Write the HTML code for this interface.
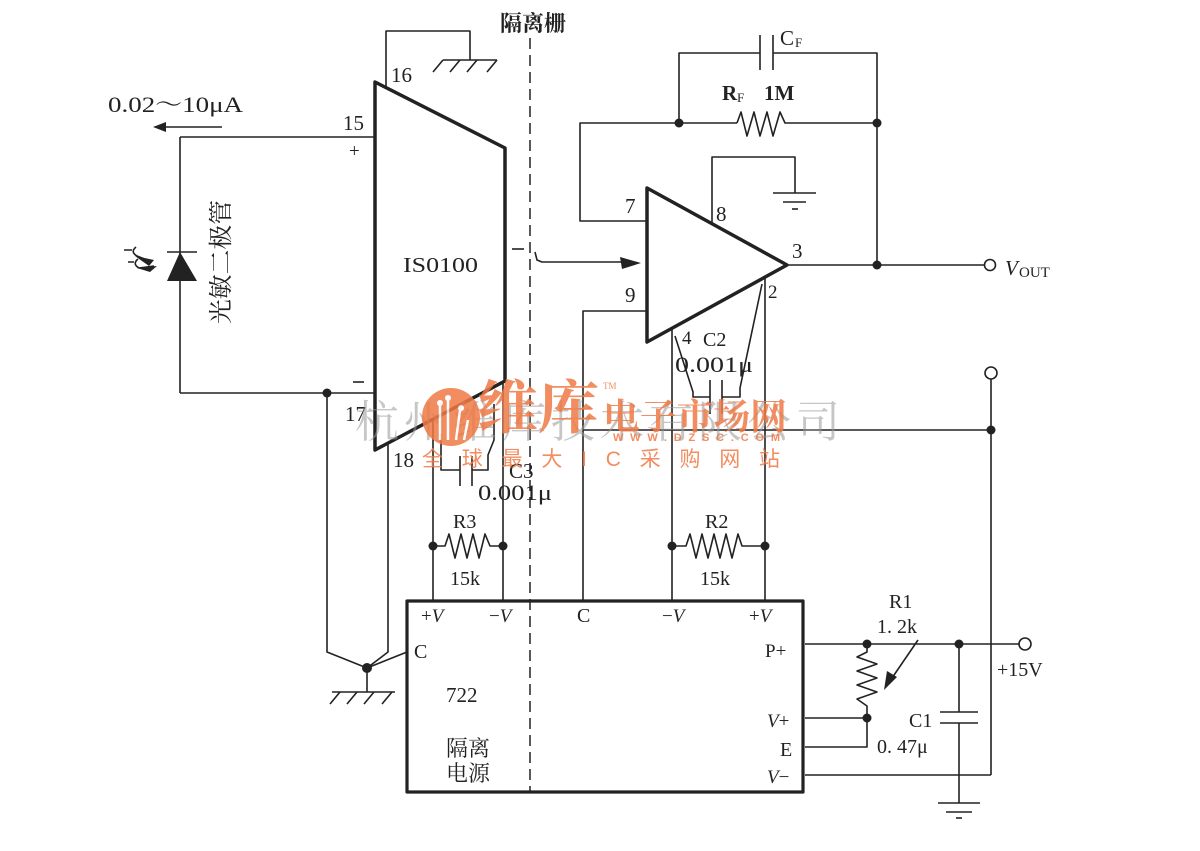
<!DOCTYPE html>
<html><head><meta charset="utf-8"><style>
html,body{margin:0;padding:0;background:#fff;}
svg{display:block;}
text{font-family:"Liberation Serif","Noto Serif CJK SC",serif;fill:#222;}
.cjk{font-family:"Liberation Serif","Noto Serif CJK SC",serif;}
</style></head><body>
<svg width="1200" height="851" viewBox="0 0 1200 851" xmlns="http://www.w3.org/2000/svg">
<rect width="1200" height="851" fill="#fff"/>
<g stroke="#222" stroke-width="1.6" fill="none" stroke-linejoin="round">
<line x1="530" y1="38" x2="530" y2="792" stroke-dasharray="11,6" stroke-width="1.5"/>
<polygon points="375,82 505,148 505,381 375,450" stroke-width="3.5"/>
<polyline points="386,88 386,31 470,31 470,60"/>
<line x1="443" y1="60" x2="497" y2="60"/>
<path d="M443,60 L433,72 M460,60 L450,72 M477,60 L467,72 M497,60 L487,72"/>
<line x1="180" y1="137" x2="375" y2="137"/>
<line x1="180" y1="137" x2="180" y2="393"/>
<line x1="180" y1="393" x2="375" y2="393"/>
<line x1="167" y1="252" x2="197" y2="252"/>
<line x1="160" y1="127" x2="222" y2="127"/>
<path d="M124,250 L132,250 M136,247 Q130,252 137,256 L152,262"/>
<path d="M128,262 L134,262 M138,259 Q132,264 139,268 L154,266"/>
<line x1="353" y1="382" x2="364" y2="382"/>
<polyline points="327,393 327,652 367,668 388,652 388,443"/>
<line x1="367" y1="668" x2="407" y2="652"/>
<line x1="367" y1="668" x2="367" y2="692"/>
<line x1="332" y1="692" x2="395" y2="692"/>
<path d="M340,692 L330,704 M357,692 L347,704 M374,692 L364,704 M392,692 L382,704"/>
<line x1="433" y1="419" x2="433" y2="601"/>
<line x1="503" y1="381" x2="503" y2="601"/>
<polyline points="441,434 441,470 460,470"/>
<line x1="460" y1="456" x2="460" y2="486"/>
<line x1="472" y1="456" x2="472" y2="486"/>
<polyline points="472,470 488,470 488,455 494,440 494,404"/>
<polyline points="433,546 445,546 449,534 455,558 461,534 467,558 473,534 479,558 485,534 490,546 503,546"/>
<line x1="512" y1="249" x2="524" y2="249"/>
<polyline points="535,252 537,260 542,262 622,262"/>
<polygon points="647,188 787,265 647,342" stroke-width="3.5"/>
<polyline points="647,221 580,221 580,123 737,123"/>
<polyline points="737,123 741,112 747,136 754,112 760,136 767,112 773,136 780,112 785,123 877,123"/>
<polyline points="679,123 679,53 760,53"/>
<line x1="760" y1="35" x2="760" y2="70"/>
<line x1="773" y1="35" x2="773" y2="70"/>
<polyline points="773,53 877,53 877,265"/>
<polyline points="712,224 712,157 795,157 795,193"/>
<line x1="773" y1="193" x2="816" y2="193"/>
<line x1="783" y1="202" x2="806" y2="202"/>
<line x1="792" y1="209" x2="798" y2="209"/>
<line x1="787" y1="265" x2="984" y2="265"/>
<circle cx="990" cy="265" r="5.5"/>
<polyline points="647,311 583,311 583,601"/>
<line x1="583" y1="430" x2="991" y2="430"/>
<line x1="672" y1="328" x2="672" y2="601"/>
<line x1="765" y1="278" x2="765" y2="601"/>
<polyline points="672,546 686,546 690,534 696,558 702,534 708,558 714,534 720,558 726,534 732,558 738,534 742,546 765,546"/>
<polyline points="675,336 693,392 693,397 710,397"/>
<line x1="710" y1="380" x2="710" y2="414"/>
<line x1="722" y1="380" x2="722" y2="414"/>
<polyline points="722,397 740,397 740,388 762,284"/>
<rect x="407" y="601" width="396" height="191" stroke-width="3.2"/>
<line x1="805" y1="644" x2="1019" y2="644"/>
<circle cx="1025" cy="644" r="6"/>
<polyline points="867,644 867,652 857,657 877,664 857,671 877,678 857,685 877,692 857,699 867,706 867,718"/>
<line x1="805" y1="718" x2="867" y2="718"/>
<polyline points="805,747 867,747 867,718"/>
<line x1="918" y1="640" x2="892" y2="678"/>
<line x1="959" y1="644" x2="959" y2="712"/>
<line x1="940" y1="712" x2="978" y2="712"/>
<line x1="940" y1="723" x2="978" y2="723"/>
<line x1="959" y1="723" x2="959" y2="803"/>
<line x1="938" y1="803" x2="980" y2="803"/>
<line x1="946" y1="812" x2="972" y2="812"/>
<line x1="956" y1="818" x2="962" y2="818"/>
<line x1="991" y1="379" x2="991" y2="775"/>
<line x1="991" y1="775" x2="805" y2="775"/>
<circle cx="991" cy="373" r="6"/>
</g>
<g fill="#222">
<polygon points="180,252 167,281 197,281"/>
<polygon points="153,127 166,122 166,132"/>
<polygon points="135,256 154,260 149,266"/>
<polygon points="137,268 157,266 150,272"/>
<polygon points="641,263 620,257 622,269"/>
<polygon points="884,690 887,671 897,677"/>
<circle cx="327" cy="393" r="4.5"/>
<circle cx="367" cy="668" r="5"/>
<circle cx="433" cy="546" r="4.5"/>
<circle cx="503" cy="546" r="4.5"/>
<circle cx="672" cy="546" r="4.5"/>
<circle cx="765" cy="546" r="4.5"/>
<circle cx="679" cy="123" r="4.5"/>
<circle cx="877" cy="123" r="4.5"/>
<circle cx="877" cy="265" r="4.5"/>
<circle cx="991" cy="430" r="4.5"/>
<circle cx="867" cy="644" r="4.5"/>
<circle cx="959" cy="644" r="4.5"/>
<circle cx="867" cy="718" r="4.5"/>
</g>
<g font-size="21">
<text x="108" y="112" font-size="22" textLength="135" lengthAdjust="spacingAndGlyphs">0.02～10μA</text>
<text x="391" y="82">16</text>
<text x="343" y="130">15</text>
<text x="349" y="157" font-size="19">+</text>
<text x="345" y="421">17</text>
<text x="393" y="467">18</text>
<text x="403" y="272" textLength="75" lengthAdjust="spacingAndGlyphs">IS0100</text>
<text class="cjk" transform="translate(229,262) rotate(-90)" text-anchor="middle" font-size="24" textLength="124" lengthAdjust="spacingAndGlyphs">光敏二极管</text>
<text class="cjk" x="500" y="31" font-size="22" font-weight="bold">隔离栅</text>
<text x="780" y="45">C</text><text x="795" y="47" font-size="13">F</text>
<text x="722" y="100" font-weight="bold">R</text><text x="737" y="102" font-size="13">F</text>
<text x="764" y="100" font-weight="bold">1M</text>
<text x="625" y="213">7</text>
<text x="716" y="221">8</text>
<text x="625" y="302">9</text>
<text x="792" y="258">3</text>
<text x="768" y="298" font-size="19">2</text>
<text x="682" y="344" font-size="19">4</text>
<text x="703" y="346" font-size="20">C2</text>
<text x="675" y="372" font-size="22" textLength="78" lengthAdjust="spacingAndGlyphs">0.001μ</text>
<text x="509" y="478" font-size="21">C3</text>
<text x="478" y="500" font-size="22" textLength="74" lengthAdjust="spacingAndGlyphs">0.001μ</text>
<text x="453" y="528" font-size="20">R3</text>
<text x="450" y="585" font-size="20">15k</text>
<text x="705" y="528" font-size="20">R2</text>
<text x="700" y="585" font-size="20">15k</text>
<text x="1005" y="275" font-style="italic">V</text><text x="1019" y="277" font-size="15">OUT</text>
<text x="421" y="622" font-size="19">+<tspan font-style="italic">V</tspan></text>
<text x="489" y="622" font-size="19">−<tspan font-style="italic">V</tspan></text>
<text x="577" y="622" font-size="20">C</text>
<text x="662" y="622" font-size="19">−<tspan font-style="italic">V</tspan></text>
<text x="749" y="622" font-size="19">+<tspan font-style="italic">V</tspan></text>
<text x="414" y="658" font-size="20">C</text>
<text x="446" y="702" font-size="21">722</text>
<text class="cjk" x="446" y="756" font-size="22">隔离</text>
<text class="cjk" x="446" y="781" font-size="22">电源</text>
<text x="765" y="657" font-size="19">P+</text>
<text x="767" y="727" font-size="19"><tspan font-style="italic">V</tspan>+</text>
<text x="780" y="756" font-size="20">E</text>
<text x="767" y="783" font-size="19"><tspan font-style="italic">V</tspan>−</text>
<text x="889" y="608" font-size="20">R1</text>
<text x="877" y="633" font-size="20">1. 2k</text>
<text x="997" y="676" font-size="20">+15V</text>
<text x="909" y="727" font-size="20">C1</text>
<text x="877" y="753" font-size="20">0. 47μ</text>
</g>
<g opacity="0.55">
<text class="cjk" x="355" y="437" font-size="44" style="fill:#999" textLength="485" lengthAdjust="spacing">杭州维库技术有限公司</text>
</g>
<g opacity="0.85">
<circle cx="451" cy="417" r="29" fill="#ef7a45"/>
<path d="M440,440 L440,405 M448,440 L448,400 M456,440 L460,410 M464,440 L468,420" stroke="#fff" stroke-width="2.5" fill="none"/>
<circle cx="440" cy="403" r="3" fill="#fff"/><circle cx="448" cy="398" r="3" fill="#fff"/><circle cx="461" cy="408" r="3" fill="#fff"/>
<text class="cjk" x="477" y="428" font-size="58" font-weight="bold" style="fill:#ef7a45" textLength="122" lengthAdjust="spacingAndGlyphs">维库</text>
<text class="cjk" x="603" y="429" font-size="36" font-weight="bold" style="fill:#ef7a45" textLength="184" lengthAdjust="spacingAndGlyphs">电子市场网</text>
<text x="603" y="389" font-size="9" style="fill:#ef7a45">TM</text>
<text x="613" y="441" font-size="11" font-weight="bold" style="fill:#ef7a45;font-family:'Liberation Sans',sans-serif" textLength="167" lengthAdjust="spacing">WWW.DZSC.COM</text>
<text x="422" y="466" font-size="21" style="fill:#ef7a45;font-family:'Liberation Sans','Noto Sans CJK SC',sans-serif" textLength="358" lengthAdjust="spacing">全球最大IC采购网站</text>
</g>
</svg>
</body></html>
